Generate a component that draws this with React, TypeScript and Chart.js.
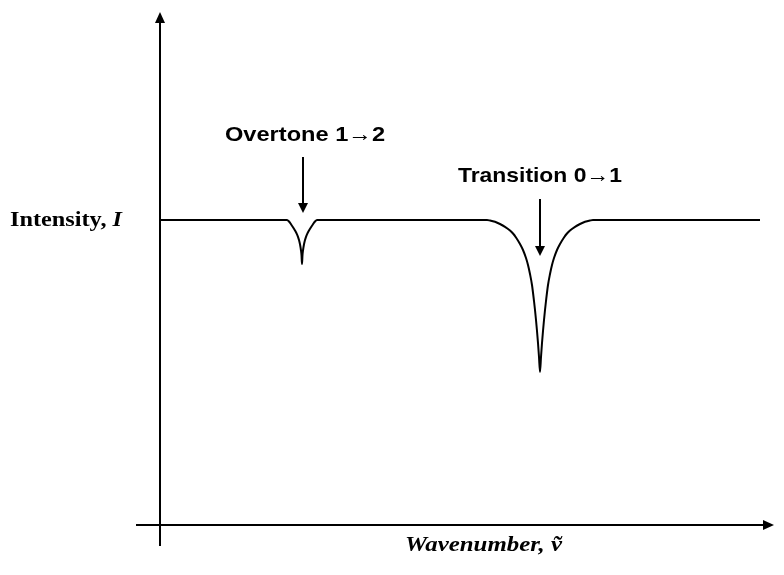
import React, { useEffect, useRef } from "react";
import { Chart, registerables } from "chart.js";

Chart.register(...registerables);

// Spectrum trace (arbitrary wavenumber units, arbitrary intensity units)
const wavenumber = [0, 127, 129, 131, 133, 135, 137, 138, 139, 140, 141, 141.5, 142, 142.5, 143, 144, 145, 146, 147, 149, 151, 153, 155, 157, 327, 330, 335, 340, 345, 350, 353, 356, 360, 363, 366, 368, 370, 372, 374, 375, 376, 377, 378, 379, 380, 381, 382, 383, 384, 385, 386, 388, 390, 392, 394, 397, 400, 404, 407, 410, 415, 420, 425, 430, 433, 600];
const intensity = [305, 305, 303.5, 300.8, 297.8, 294.5, 290.7, 288.2, 285, 280.7, 274.5, 270, 261, 270, 274.5, 280.7, 285, 288.2, 290.7, 294.5, 297.8, 300.8, 303.5, 305, 305, 304.5, 303.2, 301, 298.2, 294.5, 291.5, 287.5, 281, 275, 267, 260, 251, 240, 224, 215, 205, 194, 182, 168, 153, 168, 182, 194, 205, 215, 224, 240, 251, 260, 267, 275, 281, 287.5, 291.5, 294.5, 298.2, 301, 303.2, 304.5, 305, 305];
const baselineIntensity = 305;

// Peak annotations
const peakLabels = ["Overtone 1\u21922", "Transition 0\u21921"];
const peakPositions = [142, 380];

const yAxisTitle = "Intensity, ";
const yAxisSymbol = "I";
const xAxisTitle = "Wavenumber, \u1E7D";

// styles for annotations: offsets from baseline pixel
const annStyle = [
  { labelBase: -79, arrowTop: -63, arrowTip: -7, width: 160, dx: 1, ldx: 2 },
  { labelBase: -38, arrowTop: -21, arrowTip: 36, width: 164, dx: 0, ldx: 0 },
];

function fitText(ctx: CanvasRenderingContext2D, parts: { t: string; font: string }[], x: number, y: number, width: number, align: "left" | "center" | "right") {
  let total = 0;
  const ws = parts.map((p) => {
    ctx.font = p.font;
    const w = ctx.measureText(p.t).width;
    total += w;
    return w;
  });
  const s = width / total;
  let start = x;
  if (align === "center") start = x - width / 2;
  if (align === "right") start = x - width;
  ctx.save();
  ctx.translate(start, y);
  ctx.scale(s, 1);
  ctx.textAlign = "left";
  ctx.textBaseline = "alphabetic";
  let cx = 0;
  parts.forEach((p, i) => {
    ctx.font = p.font;
    ctx.fillText(p.t, cx, 0);
    cx += ws[i];
  });
  ctx.restore();
}

const overlayPlugin = {
  id: "overlay",
  afterDraw(chart: any) {
    const ctx: CanvasRenderingContext2D = chart.ctx;
    const xs = chart.scales.x;
    const ys = chart.scales.y;
    const ax = xs.getPixelForValue(0);
    const ay = ys.getPixelForValue(0);
    const top = chart.chartArea.top;
    const right = chart.chartArea.right;
    ctx.save();
    ctx.strokeStyle = "#000";
    ctx.fillStyle = "#000";
    ctx.lineWidth = 2;
    // y axis
    ctx.beginPath();
    ctx.moveTo(ax, ay + 21);
    ctx.lineTo(ax, top + 6);
    ctx.stroke();
    ctx.beginPath();
    ctx.moveTo(ax, top - 3);
    ctx.lineTo(ax - 5, top + 8);
    ctx.lineTo(ax + 5, top + 8);
    ctx.closePath();
    ctx.fill();
    // x axis
    ctx.beginPath();
    ctx.moveTo(ax - 24, ay);
    ctx.lineTo(right + 6, ay);
    ctx.stroke();
    ctx.beginPath();
    ctx.moveTo(right + 14, ay);
    ctx.lineTo(right + 3, ay - 5);
    ctx.lineTo(right + 3, ay + 5);
    ctx.closePath();
    ctx.fill();

    const by = ys.getPixelForValue(baselineIntensity);
    // peak annotations
    peakLabels.forEach((label, i) => {
      const st = annStyle[i];
      const px = xs.getPixelForValue(peakPositions[i]) + st.dx;
      ctx.lineWidth = 2;
      ctx.beginPath();
      ctx.moveTo(px, by + st.arrowTop);
      ctx.lineTo(px, by + st.arrowTip - 6);
      ctx.stroke();
      ctx.beginPath();
      ctx.moveTo(px, by + st.arrowTip);
      ctx.lineTo(px - 5, by + st.arrowTip - 10);
      ctx.lineTo(px + 5, by + st.arrowTip - 10);
      ctx.closePath();
      ctx.fill();
      fitText(ctx, [{ t: label, font: "bold 21px 'Liberation Sans', Arial, sans-serif" }], px + st.ldx, by + st.labelBase, st.width, "center");
    });

    // axis titles
    fitText(
      ctx,
      [
        { t: yAxisTitle, font: "bold 20px 'Liberation Serif', 'Times New Roman', serif" },
        { t: yAxisSymbol, font: "italic bold 20px 'Liberation Serif', 'Times New Roman', serif" },
      ],
      ax - 38,
      by + 6,
      112,
      "right"
    );
    fitText(
      ctx,
      [{ t: xAxisTitle, font: "italic bold 20px 'Liberation Serif', 'Times New Roman', serif" }],
      ax + 245,
      ay + 26,
      157,
      "left"
    );
    ctx.restore();
  },
};

export default function App() {
  const ref = useRef<HTMLCanvasElement>(null);
  useEffect(() => {
    if (!ref.current) return;
    const points = wavenumber.map((w, i) => ({ x: w, y: intensity[i] }));
    const chart = new Chart(ref.current, {
      type: "line",
      data: {
        datasets: [
          {
            data: points,
            borderColor: "#000",
            borderWidth: 2,
            pointRadius: 0,
            fill: false,
            cubicInterpolationMode: "monotone",
          },
        ],
      },
      options: {
        animation: false,
        responsive: false,
        maintainAspectRatio: false,
        layout: { padding: { left: 160, right: 24, top: 15, bottom: 50 } },
        scales: {
          x: { type: "linear", min: 0, max: 600, display: false },
          y: { type: "linear", min: 0, max: 510, display: false },
        },
        plugins: { legend: { display: false }, tooltip: { enabled: false } },
      },
      plugins: [overlayPlugin],
    } as any);
    return () => chart.destroy();
  }, []);
  return (
    <div style={{ position: "fixed", left: 0, top: 0, width: 784, height: 575, background: "#fff" }}>
      <canvas ref={ref} width={784} height={575} style={{ width: 784, height: 575 }} />
    </div>
  );
}
